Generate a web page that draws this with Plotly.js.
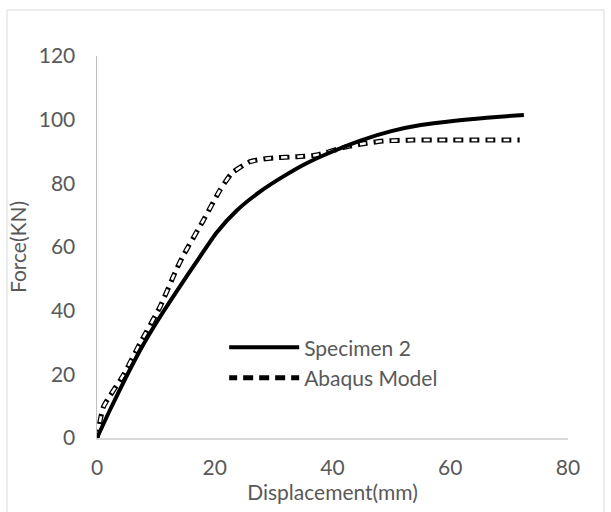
<!DOCTYPE html>
<html>
<head>
<meta charset="utf-8">
<script src="https://cdn.plot.ly/plotly-3.0.1.min.js"></script>
<style>html,body{margin:0;padding:0;background:#fff;}#chart{width:611px;height:512px;}</style>
</head>
<body>
<div id="chart"></div>
<script>
// Specimen 2 (experimental)
const specimenX = [0, 2.2, 4.5, 7.3, 10.1, 13.5, 17.5, 20.3, 23.7, 27.7, 31.6, 35.6, 40.0, 45.0, 50.0, 55.0, 60.5, 66.2, 72.5];
const specimenY = [0, 8.8, 17.5, 27.5, 36.3, 46.0, 57.0, 64.5, 71.4, 77.4, 82.1, 86.3, 90.0, 93.6, 96.4, 98.3, 99.6, 100.6, 101.5];
// Abaqus model
const abaqusX = [0, 1.1, 4.5, 7.3, 10.7, 13.5, 14.7, 18.1, 20.9, 22.9, 26.0, 29.4, 34.5, 37.3, 42.4, 45.8, 48.6, 53.7, 57.0, 71.8];
const abaqusY = [0, 9.8, 19.8, 29.7, 41.2, 53.0, 57.5, 68.5, 77.9, 83.2, 86.8, 87.9, 88.4, 88.9, 91.5, 92.6, 93.3, 93.6, 93.6, 93.6];

const xTicks = [0, 20, 40, 60, 80];
const yTicks = [0, 20, 40, 60, 80, 100, 120];

const font = "Lato, 'Open Sans', sans-serif";
const gray = '#595959';

const traces = [
  {x: abaqusX, y: abaqusY, mode: 'lines', name: 'Abaqus Model', legendgroup: 'a',
   line: {color: '#000', width: 5, dash: '8px,6px,2px,0px', shape: 'spline', smoothing: 0.5}},
  {x: abaqusX, y: abaqusY, mode: 'lines', name: 'Abaqus Model', legendgroup: 'a', showlegend: false,
   line: {color: '#ffffff', width: 2.5, dash: '6px,10px', shape: 'spline', smoothing: 0.5}},
  {x: specimenX, y: specimenY, mode: 'lines', name: 'Specimen 2',
   line: {color: '#000', width: 4, shape: 'spline', smoothing: 0.6}}
];

const layout = {
  width: 611, height: 512,
  margin: {l: 97, r: 43, t: 56, b: 74},
  paper_bgcolor: '#fff', plot_bgcolor: '#fff',
  font: {family: font, color: gray, size: 21},
  showlegend: true,
  legend: {x: 0.27, y: 0.29, xanchor: 'left', yanchor: 'top', traceorder: 'reversed',
           itemwidth: 70, font: {family: font, size: 21, color: gray}, bgcolor: 'rgba(0,0,0,0)', tracegroupgap: 0},
  xaxis: {range: [0, 80], tickvals: xTicks, ticktext: xTicks.map(String), showgrid: false, zeroline: false,
          showline: true, linecolor: '#d9d9d9', linewidth: 1.5, ticks: '', ticklabelstandoff: 10,
          tickfont: {family: font, size: 21, color: gray},
          title: {text: 'Displacement(mm)', font: {family: font, size: 21, color: gray}, standoff: 5}},
  yaxis: {range: [0, 120], tickvals: yTicks, ticktext: yTicks.map(String), showgrid: false, zeroline: false,
          showline: true, linecolor: '#bfbfbf', linewidth: 1.5, ticks: '', ticklabelstandoff: 16,
          tickfont: {family: font, size: 21, color: gray},
          title: {text: 'Force(KN)', font: {family: font, size: 21, color: gray}, standoff: 6}},
  shapes: [{type: 'rect', xref: 'paper', yref: 'paper', x0: -0.191, x1: 1.0764, y0: -0.196, y1: 1.1204,
            line: {color: '#d9d9d9', width: 1}, fillcolor: 'rgba(0,0,0,0)', layer: 'below'}]
};

Plotly.newPlot('chart', traces, layout, {displayModeBar: false, staticPlot: true});
</script>
</body>
</html>
